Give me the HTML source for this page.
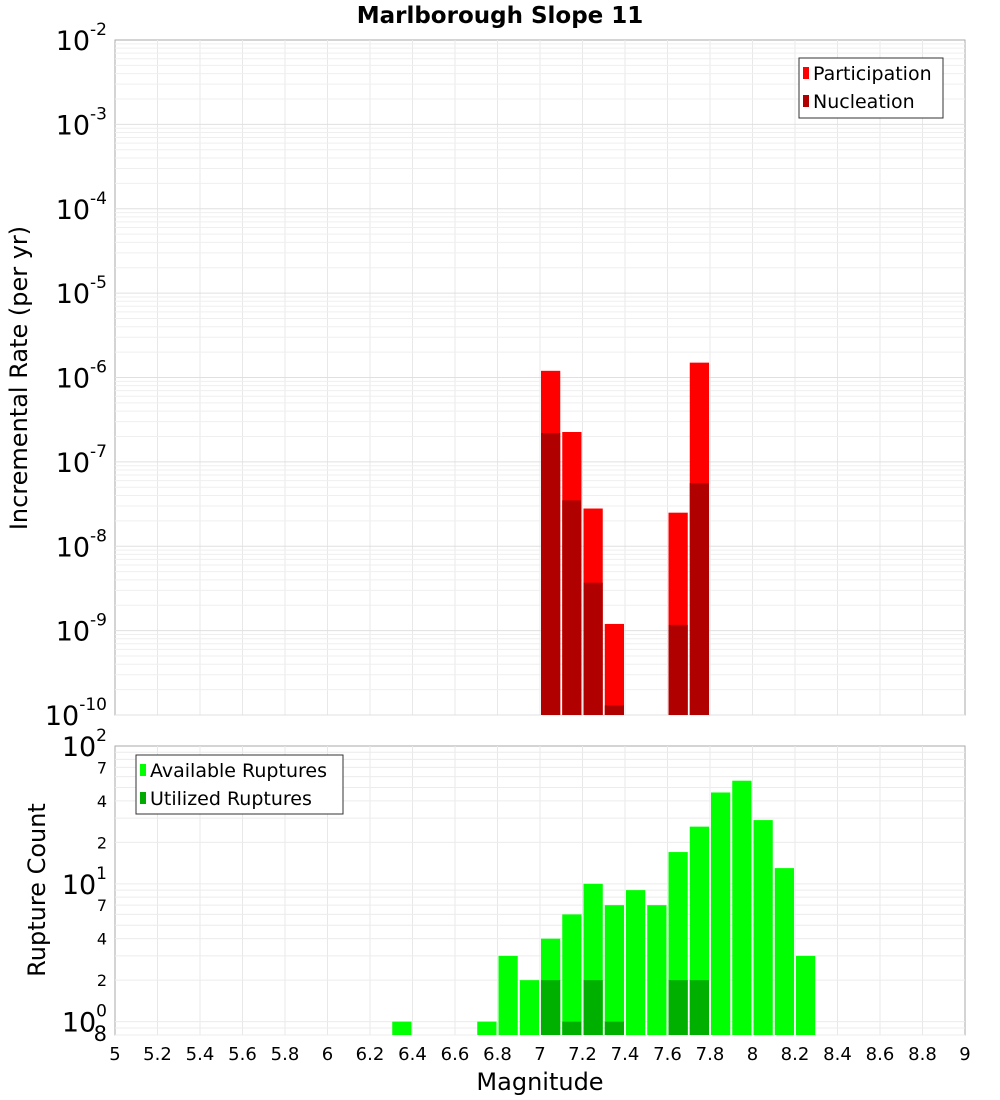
<!DOCTYPE html>
<html><head><meta charset="utf-8"><style>
body{margin:0;background:#fff;font-family:"Liberation Sans","DejaVu Sans",sans-serif}
svg{display:block}
</style></head><body>
<svg id="chart" width="1000" height="1100" xmlns="http://www.w3.org/2000/svg" font-family="DejaVu Sans, Liberation Sans, sans-serif">
<text x="500" y="23" text-anchor="middle" font-size="23" font-weight="bold">Marlborough Slope 11</text>
<rect x="115" y="40" width="850" height="675" fill="#fff" stroke="#aaa"/>
<rect x="115" y="746" width="850" height="289" fill="#fff" stroke="#aaa"/>
<g id="grid"></g><g id="bars"></g><g id="axes"></g>
<text transform="translate(27,378) rotate(-90)" text-anchor="middle" font-size="24">Incremental Rate (per yr)</text>
<text transform="translate(45,890) rotate(-90)" text-anchor="middle" font-size="24">Rupture Count</text>
<text x="540" y="1090" text-anchor="middle" font-size="24">Magnitude</text>
<g>
<rect x="799" y="58" width="144" height="60" fill="#fff" stroke="#333"/>
<rect x="803" y="67" width="6" height="12" fill="#ff0000"/>
<text x="813" y="80" font-size="19">Participation</text>
<rect x="803" y="95" width="6" height="12" fill="#b00000"/>
<text x="813" y="108" font-size="19">Nucleation</text>
</g>
<g>
<rect x="136" y="755" width="207" height="59" fill="#fff" stroke="#333"/>
<rect x="140" y="764" width="6" height="12" fill="#00ff00"/>
<text x="150" y="777" font-size="19">Available Ruptures</text>
<rect x="140" y="792" width="6" height="12" fill="#00aa00"/>
<text x="150" y="805" font-size="19">Utilized Ruptures</text>
</g>
</svg>
<script>
const binStarts=[7.0,7.1,7.2,7.3,7.6,7.7];
const participation=[1.2e-6,2.26e-7,2.8e-8,1.2e-9,2.5e-8,1.5e-6];
const nucleation=[2.2e-7,3.5e-8,3.7e-9,1.3e-10,1.17e-9,5.6e-8];
const availBins=[6.3,6.7,6.8,6.9,7.0,7.1,7.2,7.3,7.4,7.5,7.6,7.7,7.8,7.9,8.0,8.1,8.2];
const availCounts=[1,1,3,2,4,6,10,7,9,7,17,26,46,56,29,13,3];
const usedBins=[7.0,7.1,7.2,7.3,7.6,7.7];
const usedCounts=[2,1,2,1,2,2];
const xTicks=["5","5.2","5.4","5.6","5.8","6","6.2","6.4","6.6","6.8","7","7.2","7.4","7.6","7.8","8","8.2","8.4","8.6","8.8","9"];
const NS="http://www.w3.org/2000/svg";
const X=m=>115+(m-5)*212.5;
const YT=v=>715-(Math.log10(v)+10)*84.375;
const YB=v=>1035-(Math.log10(v)-Math.log10(0.8))*(289/(2-Math.log10(0.8)));
function mk(p,t,a){const e=document.createElementNS(NS,t);for(const k in a)e.setAttribute(k,a[k]);p.appendChild(e);return e;}
const g=document.getElementById('grid'),b=document.getElementById('bars'),ax=document.getElementById('axes');
for(let i=1;i<20;i++){const x=X(5+i*0.2);
const l1=mk(g,'line',{x1:x,x2:x,y1:40,y2:715,stroke:'#e8e8e8'});

const l2=mk(g,'line',{x1:x,x2:x,y1:746,y2:1035,stroke:'#e8e8e8'});
}
for(let d=-10;d<-2;d++)for(let k=1;k<10;k++){const y=YT(k*Math.pow(10,d));
const l=mk(g,'line',{x1:115,x2:965,y1:y,y2:y,stroke:k==1?'#e0e0e0':'#efefef'});
}
for(let d=-1;d<2;d++)for(let k=1;k<10;k++){const v=k*Math.pow(10,d);if(v<0.8)continue;const y=YB(v);
const l=mk(g,'line',{x1:115,x2:965,y1:y,y2:y,stroke:'#ececec'});
}
binStarts.forEach((m,i)=>{const x=X(m)+1,w=X(m+0.1)-X(m)-2;
let y=YT(participation[i]);
const r=mk(b,'rect',{x:x,y:y,width:w,height:715-y,fill:'#ff0000'});

y=YT(nucleation[i]);
const r2=mk(b,'rect',{x:x,y:y,width:w,height:715-y,fill:'#b00000'});
});
availBins.forEach((m,i)=>{const x=X(m)+1,w=X(m+0.1)-X(m)-2,y=YB(availCounts[i]);
const r=mk(b,'rect',{x:x,y:y,width:w,height:1035-y,fill:'#00ff00'});
});
usedBins.forEach((m,i)=>{const x=X(m)+1,w=X(m+0.1)-X(m)-2,y=YB(usedCounts[i]);
const r=mk(b,'rect',{x:x,y:y,width:w,height:1035-y,fill:'#00b000'});
});
xTicks.forEach(t=>{const x=X(parseFloat(t));
const e=mk(ax,'text',{x:x,y:1060,'text-anchor':'middle','font-size':18});e.textContent=t;
});
for(let d=-10;d<=-2;d++){const y=YT(Math.pow(10,d));
const e=mk(ax,'text',{x:107,y:y+10,'text-anchor':'end','font-size':27});
e.innerHTML='10<tspan dy="-15" font-size="17">'+d+'</tspan>';
}
[[1,'0'],[10,'1'],[100,'2']].forEach(([v,p])=>{const y=YB(v);
const e=mk(ax,'text',{x:107,y:y+10,'text-anchor':'end','font-size':27});
e.innerHTML='10<tspan dy="-15" font-size="17">'+p+'</tspan>';
});
[2,4,7,20,40,70,0.8].forEach(v=>{const y=YB(v);
const e=mk(ax,'text',{x:107,y:y+6,'text-anchor':'end','font-size':v==0.8?21:16});
e.textContent=v>=10?String(v/10):String(v==0.8?8:v);
});
</script>
</body></html>
